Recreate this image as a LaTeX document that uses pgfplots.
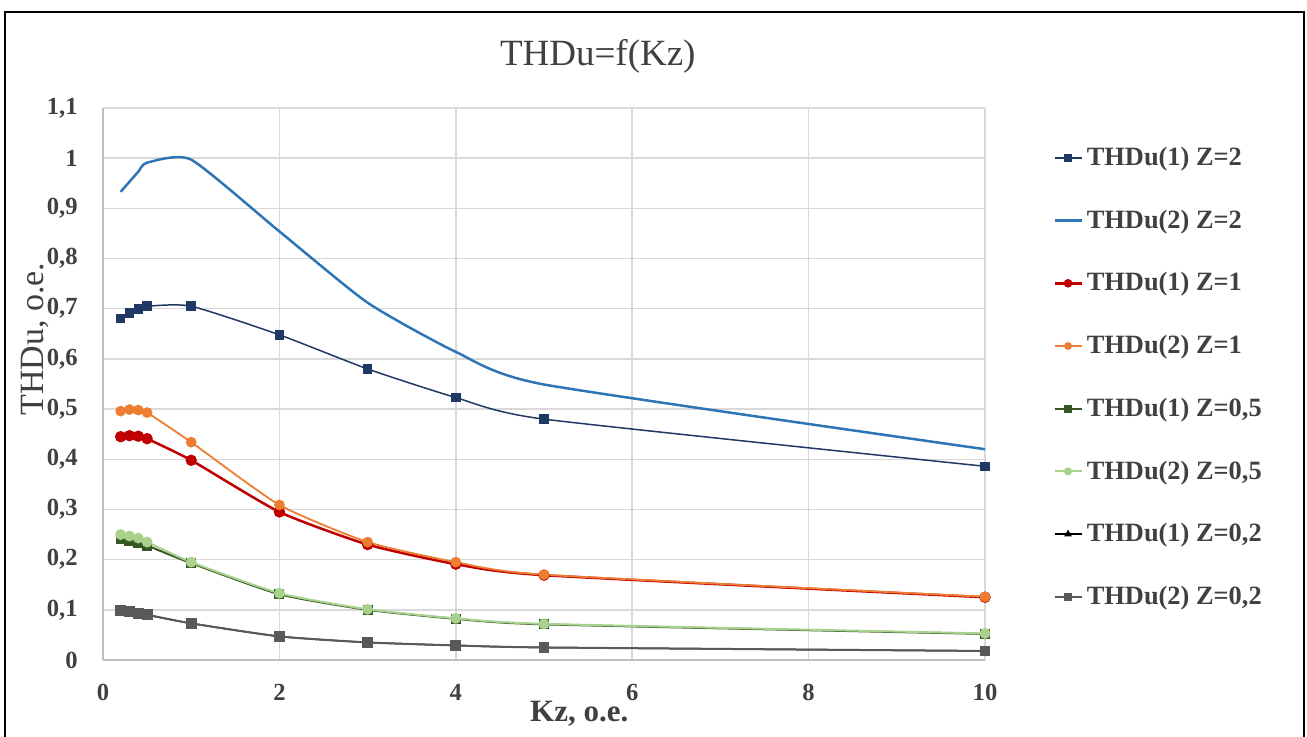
\documentclass[border=0pt]{standalone}
\usepackage{pgfplots}
\pgfplotsset{compat=1.18}
\usepackage{fontspec}
\setmainfont{Liberation Serif}

\definecolor{txt}{HTML}{404040}
\definecolor{gridc}{HTML}{D9D9D9}
\definecolor{axisc}{HTML}{BFBFBF}
\definecolor{cNavy}{HTML}{203864}
\definecolor{cBlue}{HTML}{2E75B6}
\definecolor{cRed}{HTML}{C00000}
\definecolor{cOrange}{HTML}{ED7D31}
\definecolor{cDGreen}{HTML}{375623}
\definecolor{cLGreen}{HTML}{A9D18E}
\definecolor{cGray}{HTML}{595959}

% THDu versus Kz for Z = 2, 1, 0.5, 0.2
\pgfplotstableread{
kz    a2     b2     a1     b1     a05    b05    a02    b02
0.2   0.681  0.933  0.445  0.496  0.241  0.250  0.098  0.098
0.3   0.691  0.953  0.447  0.499  0.238  0.247  0.096  0.096
0.4   0.699  0.973  0.446  0.498  0.234  0.243  0.093  0.093
0.5   0.705  0.991  0.441  0.493  0.228  0.235  0.090  0.090
1     0.705  0.997  0.398  0.434  0.193  0.195  0.073  0.073
2     0.648  0.854  0.295  0.309  0.131  0.133  0.047  0.047
3     0.580  0.712  0.230  0.235  0.100  0.101  0.035  0.035
4     0.523  0.614  0.191  0.195  0.082  0.083  0.029  0.029
5     0.480  0.549  0.169  0.170  0.071  0.072  0.025  0.025
10    0.386  0.420  0.125  0.126  0.052  0.053  0.018  0.018
}\thdu

\begin{document}
\begin{tikzpicture}[x=1pt,y=1pt]
\path[use as bounding box] (0,0) rectangle (653.5,368.5);
% outer frame
\draw[line width=1pt,black] (2.5,-2) -- (2.5,362.5) -- (652,362.5) -- (652,-2);

\begin{axis}[
  at={(51.5pt,38.5pt)}, anchor=south west,
  scale only axis, width=441pt, height=276pt,
  xmin=0, xmax=10, ymin=0, ymax=1.1,
  axis x line*=bottom, axis y line*=left,
  axis line style={axisc, line width=0.8pt},
  xtick={0,2,4,6,8,10},
  ytick={0,0.1,0.2,0.3,0.4,0.5,0.6,0.7,0.8,0.9,1,1.1},
  yticklabels={0,{0,1},{0,2},{0,3},{0,4},{0,5},{0,6},{0,7},{0,8},{0,9},1,{1,1}},
  major tick length=0pt,
  grid=major,
  major grid style={gridc, line width=0.75pt},
  /pgf/number format/assume math mode=true,
  tick label style={font=\fontsize{12.3}{14}\selectfont\bfseries, text=txt},
  xticklabel style={anchor=north, inner sep=0pt, yshift=-12pt},
  yticklabel style={anchor=east, inner sep=0pt, xshift=-12.5pt},
  title={THDu=f(Kz)},
  title style={at={(axis description cs:0.561,1.056)}, anchor=base,
    font=\fontsize{18.5}{22}\selectfont, text=txt},
  xlabel={Kz, o.e.},
  xlabel style={at={(axis description cs:0.540,-0.112)}, anchor=base,
    font=\fontsize{15.5}{18}\selectfont\bfseries, text=txt},
  ylabel={THDu, o.e.},
  ylabel style={at={(axis description cs:-0.068,0.5815)}, anchor=base,
    font=\fontsize{17}{20}\selectfont, text=txt},
  legend style={at={(axis description cs:1.077,0.512)}, anchor=west,
    draw=none, fill=none, inner sep=0pt,
    font=\fontsize{13.2}{15}\selectfont\bfseries, text=txt,
    row sep=16.7pt, cells={anchor=west}},
  legend image code/.code={%
    \draw[mark repeat=2,mark phase=2,mark size=1.5pt]
      plot coordinates {(0pt,0pt) (6.75pt,0pt) (13.5pt,0pt)};},
  every axis plot/.append style={smooth, tension=0.35},
  clip=false,
]
\addplot[cNavy, line width=0.75pt, mark=square*, mark size=2pt,
  mark options={solid, fill=cNavy}] table[x=kz,y=a2] {\thdu};
\addlegendentry{THDu(1) Z=2}
\addplot[cBlue, line width=1.25pt] table[x=kz,y=b2] {\thdu};
\addlegendentry{THDu(2) Z=2}
\addplot[cRed, line width=1.25pt, mark=*, mark size=2.2pt,
  mark options={solid, fill=cRed}] table[x=kz,y=a1] {\thdu};
\addlegendentry{THDu(1) Z=1}
\addplot[cOrange, line width=0.9pt, mark=*, mark size=2.2pt,
  mark options={solid, fill=cOrange}] table[x=kz,y=b1] {\thdu};
\addlegendentry{THDu(2) Z=1}
\addplot[cDGreen, line width=1pt, mark=square*, mark size=2pt,
  mark options={solid, fill=cDGreen}] table[x=kz,y=a05] {\thdu};
\addlegendentry{THDu(1) Z=0,5}
\addplot[cLGreen, line width=1pt, mark=*, mark size=2.2pt,
  mark options={solid, fill=cLGreen}] table[x=kz,y=b05] {\thdu};
\addlegendentry{THDu(2) Z=0,5}
\addplot[black, line width=0.75pt, mark=triangle*, mark size=1.8pt,
  mark options={solid, fill=black}] table[x=kz,y=a02] {\thdu};
\addlegendentry{THDu(1) Z=0,2}
\addplot[cGray, line width=1pt, mark=square*, mark size=2.2pt,
  mark options={solid, fill=cGray}] table[x=kz,y=b02] {\thdu};
\addlegendentry{THDu(2) Z=0,2}
\end{axis}
\end{tikzpicture}
\end{document}
